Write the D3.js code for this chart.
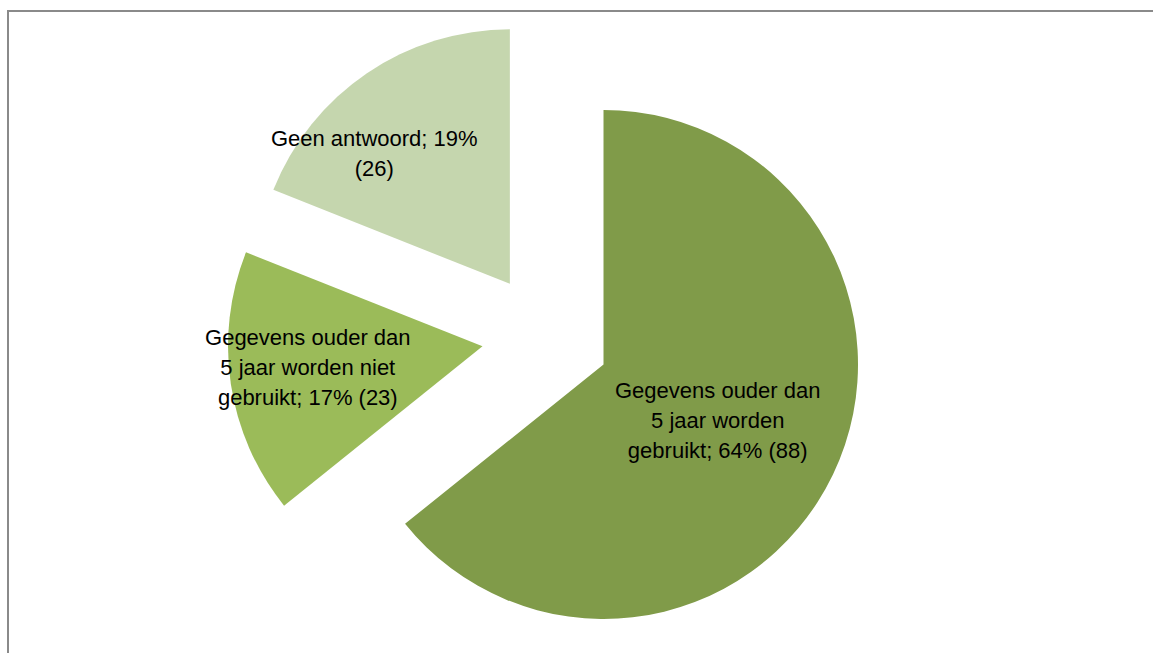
<!DOCTYPE html>
<html>
<head>
<meta charset="utf-8">
<script src="https://cdn.jsdelivr.net/npm/d3@7"></script>
<style>
  html, body { margin: 0; padding: 0; background: #fff; overflow: hidden; }
  svg { display: block; }
</style>
</head>
<body>
<svg id="chart" width="1153" height="653"></svg>
<script>
// ---- data ----
const categories = [
  "Gegevens ouder dan 5 jaar worden gebruikt",
  "Gegevens ouder dan 5 jaar worden niet gebruikt",
  "Geen antwoord"
];
const values = [88, 23, 26];
const colors = ["#809B49", "#9BBB59", "#C5D6AE"];

// ---- layout ----
const W = 1153, H = 653;
const cx = 545.8, cy = 336.8;     // pie center before explosion
const radius = 254.5;
const explode = 64;
// label placement: polar offset (deg clockwise from top, distance) from each exploded slice apex
const labelPolar = [[115.9, 127], [263.1, 176], [314, 188.5]];
const labelMaxWidth = 215;
const lineHeight = 30;

const svg = d3.select("#chart");

// chart frame (only top/left edges visible in view)
svg.append("rect")
  .attr("x", 8).attr("y", 11)
  .attr("width", W + 20).attr("height", H + 20)
  .attr("fill", "none")
  .attr("stroke", "#8a8a8a")
  .attr("stroke-width", 2);

const total = d3.sum(values);
const pie = d3.pie().sort(null).value(d => d.value).startAngle(0).endAngle(2 * Math.PI);
const data = categories.map((c, i) => ({ name: c, value: values[i], color: colors[i], idx: i }));
const arcs = pie(data);
const arc = d3.arc().innerRadius(0).outerRadius(radius);

const g = svg.append("g").attr("transform", `translate(${cx},${cy})`);

function offset(a, dist) {
  return [Math.sin(a) * dist, -Math.cos(a) * dist];
}

const slices = g.selectAll("g.slice").data(arcs).join("g")
  .attr("class", "slice")
  .attr("transform", d => {
    const mid = (d.startAngle + d.endAngle) / 2;
    const [dx, dy] = offset(mid, explode);
    return `translate(${dx},${dy})`;
  });

slices.append("path")
  .attr("d", arc)
  .attr("fill", d => d.data.color);

// labels
slices.each(function(d, i) {
  const pct = Math.round(d.data.value / total * 100);
  const full = `${d.data.name}; ${pct}% (${d.data.value})`;
  const [ang, dist] = labelPolar[i];
  const [lx, ly] = offset(ang * Math.PI / 180, dist);
  const text = d3.select(this).append("text")
    .attr("text-anchor", "middle")
    .attr("font-family", "'Liberation Sans', Arial, sans-serif")
    .attr("font-size", 22)
    .attr("fill", "#000");
  // greedy wrap
  const words = full.split(" ");
  const lines = [];
  let cur = "";
  const probe = text.append("tspan");
  words.forEach(w => {
    const test = cur ? cur + " " + w : w;
    probe.text(test);
    if (probe.node().getComputedTextLength() > labelMaxWidth && cur) {
      lines.push(cur);
      cur = w;
    } else {
      cur = test;
    }
  });
  if (cur) lines.push(cur);
  probe.remove();
  const n = lines.length;
  lines.forEach((line, k) => {
    text.append("tspan")
      .attr("x", lx)
      .attr("y", ly + (k - (n - 1) / 2) * lineHeight + 8)
      .text(line);
  });
});
</script>
</body>
</html>
